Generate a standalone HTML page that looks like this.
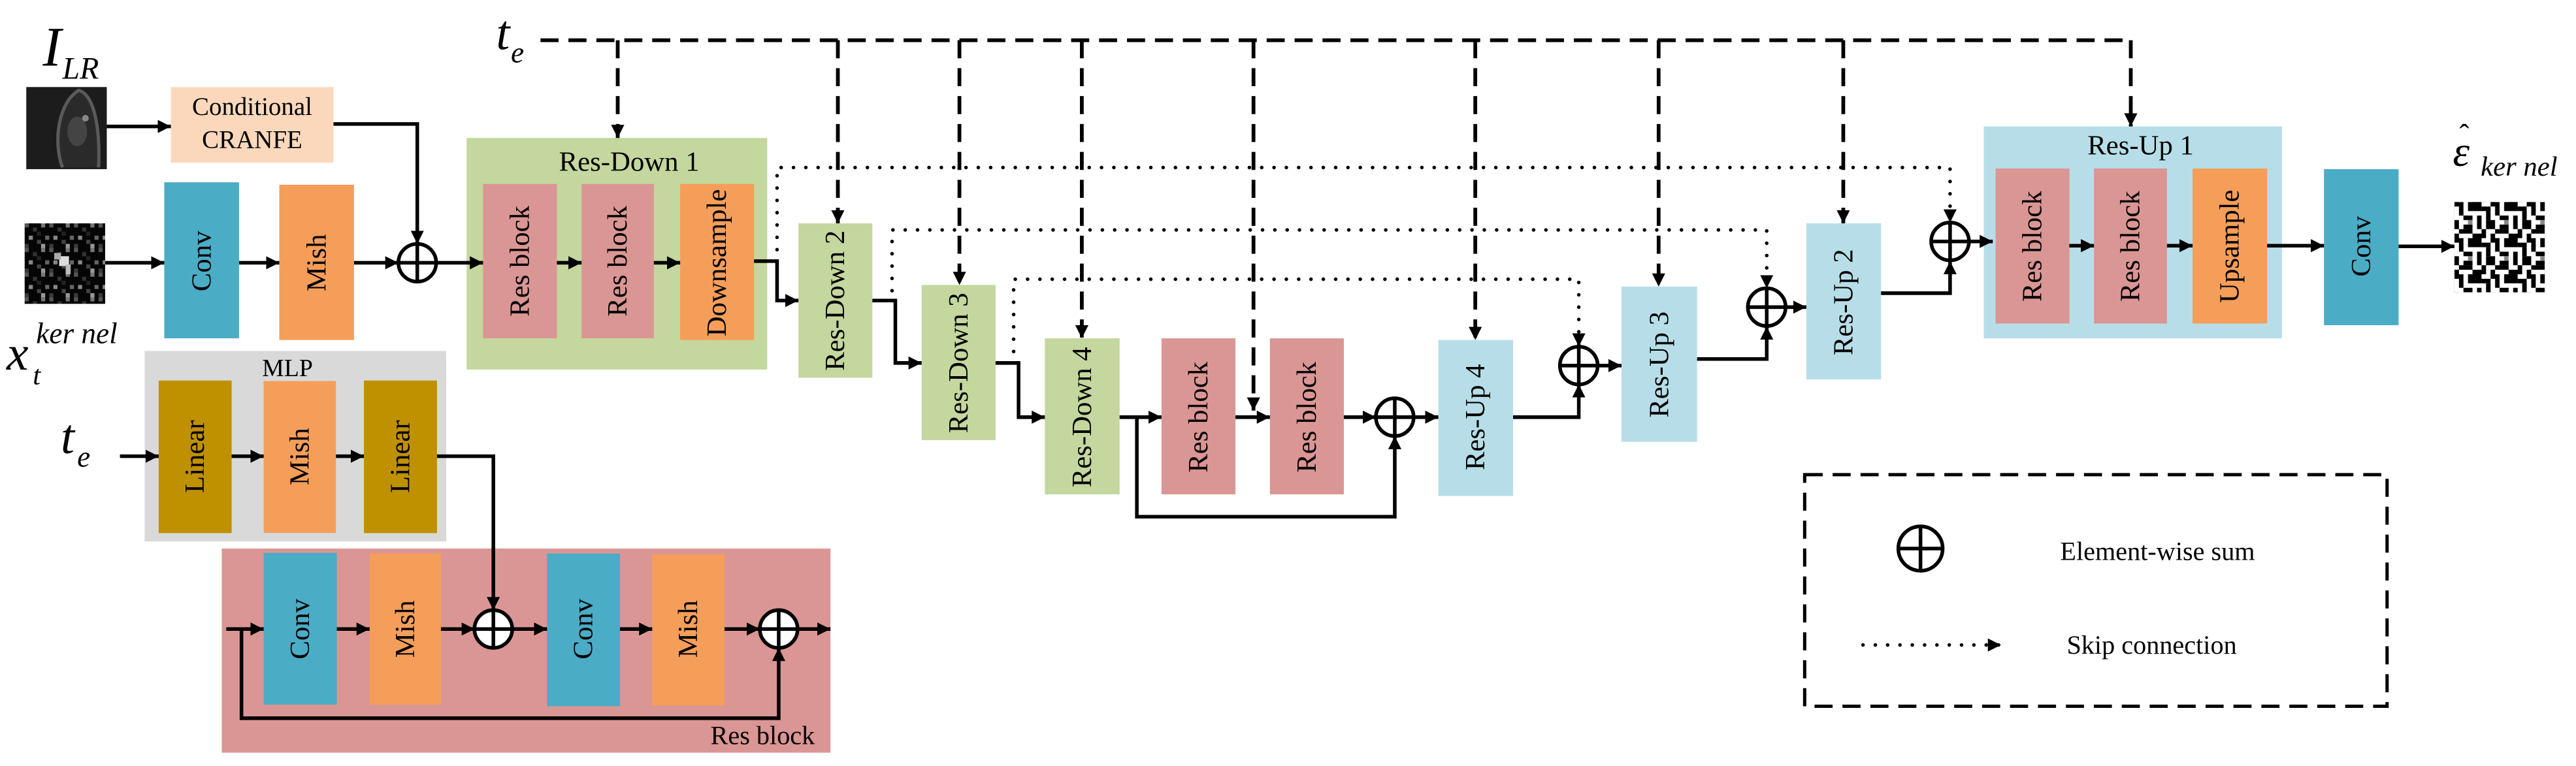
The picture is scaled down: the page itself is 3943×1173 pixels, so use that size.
<!DOCTYPE html>
<html><head><meta charset="utf-8">
<style>
html,body{margin:0;padding:0;background:#fff;}
svg{display:block;}
svg text{font-family:"Liberation Serif","Times New Roman",serif;fill:#000;}
</style></head>
<body>
<svg width="3943" height="1173" viewBox="0 0 1568 466.4" preserveAspectRatio="none" xmlns="http://www.w3.org/2000/svg" font-family="Liberation Serif, Times New Roman, serif">
<defs>
<marker id="a" viewBox="0 0 10 10" refX="10" refY="5" markerWidth="8" markerHeight="8" markerUnits="userSpaceOnUse" orient="auto">
<path d="M0,0 L10,5 L0,10 z" fill="#000"/>
</marker>
<pattern id="noise" x="15" y="136" width="15" height="15" patternUnits="userSpaceOnUse">
<rect width="15" height="15" fill="#050505"/>
<rect x="0" y="0" width="2.5" height="2.5" fill="#555"/>
<rect x="5" y="2.5" width="2.5" height="2.5" fill="#333"/>
<rect x="10" y="0" width="2.5" height="2.5" fill="#777"/>
<rect x="2.5" y="7.5" width="2.5" height="2.5" fill="#888"/>
<rect x="7.5" y="10" width="2.5" height="2.5" fill="#444"/>
<rect x="12.5" y="7.5" width="2.5" height="2.5" fill="#666"/>
<rect x="0" y="12.5" width="2.5" height="2.5" fill="#3a3a3a"/>
<rect x="10" y="12.5" width="2.5" height="2.5" fill="#999"/>
<rect x="7.5" y="5" width="2.5" height="2.5" fill="#222"/>
</pattern>
<pattern id="qr" x="1494" y="123" width="22" height="22" patternUnits="userSpaceOnUse">
<rect width="22" height="22" fill="#fff"/>
<rect x="0" y="0" width="5.5" height="2.75" fill="#000"/>
<rect x="8.25" y="0" width="8.25" height="5.5" fill="#000"/>
<rect x="2.75" y="2.75" width="2.75" height="5.5" fill="#000"/>
<rect x="16.5" y="2.75" width="5.5" height="2.75" fill="#000"/>
<rect x="5.5" y="8.25" width="5.5" height="2.75" fill="#000"/>
<rect x="13.75" y="8.25" width="2.75" height="8.25" fill="#000"/>
<rect x="0" y="11" width="2.75" height="5.5" fill="#000"/>
<rect x="19.25" y="11" width="2.75" height="5.5" fill="#000"/>
<rect x="5.5" y="13.75" width="5.5" height="2.75" fill="#000"/>
<rect x="2.75" y="16.5" width="8.25" height="2.75" fill="#000"/>
<rect x="11" y="19.25" width="8.25" height="2.75" fill="#000"/>
<rect x="0" y="19.25" width="2.75" height="2.75" fill="#000"/>
<rect x="16.5" y="16.5" width="2.75" height="2.75" fill="#000"/>
<rect x="8.25" y="11" width="2.75" height="2.75" fill="#888"/>
<rect x="19.25" y="5.5" width="2.75" height="5.5" fill="#000"/>
</pattern>
</defs>

<!-- images -->
<rect x="16" y="53" width="49" height="50" fill="#1c1c1c"/>
<path d="M38,102 C32,85 36,62 48,55 C58,58 61,80 60,102" fill="#2a2a2a" stroke="#5a5a5a" stroke-width="2"/>
<ellipse cx="47" cy="80" rx="6" ry="9" fill="#444"/>
<circle cx="52" cy="72" r="2" fill="#888"/>
<rect x="15" y="136" width="49" height="49" fill="url(#noise)"/>
<rect x="36" y="156" width="6" height="6" fill="#ddd"/>
<rect x="33" y="154" width="4" height="4" fill="#aaa"/>
<rect x="40" y="161" width="3" height="6" fill="#bbb"/>
<rect x="1494" y="123" width="55" height="55" fill="url(#qr)"/>

<!-- math labels -->
<text x="26" y="40" font-size="34" font-style="italic">I</text>
<text x="38" y="48" font-size="19" font-style="italic">LR</text>
<text x="302" y="30" font-size="30" font-style="italic">t</text>
<text x="311" y="38" font-size="18" font-style="italic">e</text>
<text x="37" y="276" font-size="30" font-style="italic">t</text>
<text x="47" y="284" font-size="18" font-style="italic">e</text>
<text x="4" y="225" font-size="30" font-style="italic">x</text>
<text x="22" y="209" font-size="18" font-style="italic">ker nel</text>
<text x="20" y="234" font-size="17" font-style="italic">t</text>
<text x="1493" y="101" font-size="26" font-style="italic">ε</text>
<text x="1497" y="88" font-size="18">ˆ</text>
<text x="1510" y="107" font-size="17" font-style="italic">ker nel</text>

<!-- CRANFE -->
<rect x="104" y="53" width="99" height="46" fill="#FBD8BC"/>
<text x="153.5" y="70" font-size="15.5" text-anchor="middle">Conditional</text>
<text x="153.5" y="90" font-size="15.5" text-anchor="middle">CRANFE</text>

<!-- Conv / Mish top -->
<rect x="100" y="111" width="45.5" height="95" fill="#4BACC6"/>
<rect x="170" y="112.5" width="45.5" height="94.5" fill="#F59E5A"/>
<text transform="translate(122.8,159) rotate(-90)" font-size="17" text-anchor="middle" dominant-baseline="central">Conv</text>
<text transform="translate(192.8,160) rotate(-90)" font-size="17" text-anchor="middle" dominant-baseline="central">Mish</text>

<!-- Res-Down 1 -->
<rect x="284" y="84" width="183" height="141" fill="#C4D79E"/>
<text x="383" y="104" font-size="17" text-anchor="middle">Res-Down 1</text>
<rect x="294" y="112" width="45" height="94" fill="#DA9694"/>
<rect x="354" y="112" width="44" height="94" fill="#DA9694"/>
<rect x="414" y="112" width="45" height="95" fill="#F59E5A"/>
<text transform="translate(316.5,159) rotate(-90)" font-size="17" text-anchor="middle" dominant-baseline="central">Res block</text>
<text transform="translate(376,159) rotate(-90)" font-size="17" text-anchor="middle" dominant-baseline="central">Res block</text>
<text transform="translate(436.5,160) rotate(-90)" font-size="17" text-anchor="middle" dominant-baseline="central">Downsample</text>

<!-- Down/Up column blocks -->
<rect x="486" y="136" width="45" height="94" fill="#C4D79E"/>
<rect x="561" y="173.5" width="45" height="94.5" fill="#C4D79E"/>
<rect x="636" y="206" width="45.5" height="95" fill="#C4D79E"/>
<rect x="707" y="206" width="45" height="95" fill="#DA9694"/>
<rect x="773" y="206" width="45" height="95" fill="#DA9694"/>
<rect x="875.5" y="207" width="45.5" height="95" fill="#B7DEE8"/>
<rect x="987" y="174.5" width="46" height="94.5" fill="#B7DEE8"/>
<rect x="1099.5" y="136" width="45.5" height="95" fill="#B7DEE8"/>
<text transform="translate(508.5,183) rotate(-90)" font-size="17" text-anchor="middle" dominant-baseline="central">Res-Down 2</text>
<text transform="translate(583.5,221) rotate(-90)" font-size="17" text-anchor="middle" dominant-baseline="central">Res-Down 3</text>
<text transform="translate(658.7,254) rotate(-90)" font-size="17" text-anchor="middle" dominant-baseline="central">Res-Down 4</text>
<text transform="translate(729.5,254) rotate(-90)" font-size="17" text-anchor="middle" dominant-baseline="central">Res block</text>
<text transform="translate(795.5,254) rotate(-90)" font-size="17" text-anchor="middle" dominant-baseline="central">Res block</text>
<text transform="translate(898.2,254) rotate(-90)" font-size="17" text-anchor="middle" dominant-baseline="central">Res-Up 4</text>
<text transform="translate(1010,222) rotate(-90)" font-size="17" text-anchor="middle" dominant-baseline="central">Res-Up 3</text>
<text transform="translate(1122.2,184) rotate(-90)" font-size="17" text-anchor="middle" dominant-baseline="central">Res-Up 2</text>

<!-- Res-Up 1 -->
<rect x="1207.5" y="77" width="181.5" height="129" fill="#B7DEE8"/>
<text x="1303" y="94" font-size="17" text-anchor="middle">Res-Up 1</text>
<rect x="1214.7" y="102.6" width="45" height="94.4" fill="#DA9694"/>
<rect x="1274.6" y="102.6" width="44.4" height="94.4" fill="#DA9694"/>
<rect x="1334.6" y="102.6" width="45.4" height="94.4" fill="#F59E5A"/>
<text transform="translate(1237.2,150) rotate(-90)" font-size="17" text-anchor="middle" dominant-baseline="central">Res block</text>
<text transform="translate(1296.8,150) rotate(-90)" font-size="17" text-anchor="middle" dominant-baseline="central">Res block</text>
<text transform="translate(1357.3,150) rotate(-90)" font-size="17" text-anchor="middle" dominant-baseline="central">Upsample</text>
<rect x="1414.6" y="103" width="45.4" height="95" fill="#4BACC6"/>
<text transform="translate(1437.3,150) rotate(-90)" font-size="17" text-anchor="middle" dominant-baseline="central">Conv</text>

<!-- MLP -->
<rect x="88" y="213.7" width="183.6" height="116" fill="#D9D9D9"/>
<text x="175" y="229" font-size="15" text-anchor="middle">MLP</text>
<rect x="96.6" y="231.7" width="44.4" height="92.9" fill="#BF9000"/>
<rect x="160.5" y="232" width="44" height="92.5" fill="#F59E5A"/>
<rect x="221.5" y="231.7" width="44.5" height="92.9" fill="#BF9000"/>
<text transform="translate(118.8,278) rotate(-90)" font-size="17" text-anchor="middle" dominant-baseline="central">Linear</text>
<text transform="translate(182.5,278) rotate(-90)" font-size="17" text-anchor="middle" dominant-baseline="central">Mish</text>
<text transform="translate(243.7,278) rotate(-90)" font-size="17" text-anchor="middle" dominant-baseline="central">Linear</text>

<!-- Res block detail -->
<rect x="135" y="334" width="370.5" height="124.3" fill="#DA9694"/>
<text x="496" y="453" font-size="16" text-anchor="end">Res block</text>
<rect x="160.5" y="336.6" width="44.5" height="92.4" fill="#4BACC6"/>
<rect x="225" y="337" width="43.4" height="92" fill="#F59E5A"/>
<rect x="333" y="337" width="44.4" height="93" fill="#4BACC6"/>
<rect x="397" y="337.5" width="44" height="92" fill="#F59E5A"/>
<text transform="translate(182.8,383) rotate(-90)" font-size="17" text-anchor="middle" dominant-baseline="central">Conv</text>
<text transform="translate(246.7,383) rotate(-90)" font-size="17" text-anchor="middle" dominant-baseline="central">Mish</text>
<text transform="translate(355.2,383) rotate(-90)" font-size="17" text-anchor="middle" dominant-baseline="central">Conv</text>
<text transform="translate(419,383) rotate(-90)" font-size="17" text-anchor="middle" dominant-baseline="central">Mish</text>

<!-- solid connectors -->
<g fill="none" stroke="#000" stroke-width="2.2" marker-end="url(#a)">
<path d="M65 77 H104"/>
<path d="M203 75.5 H254 V148.5"/>
<path d="M64 160 H100"/>
<path d="M145.5 160 H170"/>
<path d="M215.5 160 H242.5"/>
<path d="M265.5 160 H294"/>
<path d="M339 160 H354"/>
<path d="M398 160 H414"/>
<path d="M459 159 H473 V183 H486"/>
<path d="M531 183 H545 V221 H561"/>
<path d="M606 221 H620 V254 H636"/>
<path d="M681.5 254 H707"/>
<path d="M692 254 V314.6 H849 V265.5"/>
<path d="M752 254 H773"/>
<path d="M818 254 H837.5"/>
<path d="M860.5 254 H875.5"/>
<path d="M921 254 H961 V234"/>
<path d="M972.5 222.6 H987"/>
<path d="M1033 218.6 H1075.4 V198.8"/>
<path d="M1087 187 H1099.5"/>
<path d="M1145 178.5 H1187 V159"/>
<path d="M1199 147 H1213"/>
<path d="M1259.6 149.6 H1274.6"/>
<path d="M1319 149.6 H1334.6"/>
<path d="M1380 149.6 H1414.6"/>
<path d="M1460 150 H1494"/>
<path d="M73 277.8 H96.6"/>
<path d="M141 277.8 H160.5"/>
<path d="M204.5 277.8 H221.5"/>
<path d="M266 277.8 H300.3 V371.5"/>
<path d="M137.7 383 H160.5"/>
<path d="M205 383 H225"/>
<path d="M268.4 383 H289"/>
<path d="M311.5 383 H333"/>
<path d="M377.4 383 H397"/>
<path d="M441 383 H462.5"/>
<path d="M485.5 383 H505.5"/>
<path d="M147 383 V437.3 H474 V394.5"/>
</g>

<!-- dashed t_e lines -->
<g fill="none" stroke="#000" stroke-width="2.3" stroke-dasharray="11 6">
<path d="M329 24.5 H1297"/>
</g>
<g fill="none" stroke="#000" stroke-width="2.3" stroke-dasharray="11 6" marker-end="url(#a)">
<path d="M376 24.5 V84"/>
<path d="M510 24.5 V136"/>
<path d="M584 24.5 V173.5"/>
<path d="M658.5 24.5 V206"/>
<path d="M763 24.5 V250"/>
<path d="M898 24.5 V207"/>
<path d="M1009.6 24.5 V174.5"/>
<path d="M1122 24.5 V136"/>
<path d="M1297 24.5 V77"/>
</g>

<!-- dotted skips -->
<g fill="none" stroke="#000" stroke-width="2.2" stroke-dasharray="0 7.5" stroke-linecap="round" marker-end="url(#a)">
<path d="M473 152 V102 H1187 V135.5"/>
<path d="M543 177 V140 H1075.4 V175.5"/>
<path d="M617 214 V170 H961 V211"/>
</g>

<!-- sum circles -->
<g fill="#fff" stroke="#000" stroke-width="2.2">
<circle cx="254" cy="160" r="11.5"/>
<circle cx="849" cy="254" r="11.5"/>
<circle cx="961" cy="222.6" r="11.5"/>
<circle cx="1075.4" cy="187" r="11.5"/>
<circle cx="1187" cy="147" r="11.5"/>
<circle cx="300.3" cy="383" r="11.5"/>
<circle cx="474" cy="383" r="11.5"/>
<circle cx="1169" cy="334" r="13.5"/>
</g>
<g stroke="#000" stroke-width="2.2">
<path d="M242.5 160 H265.5 M254 148.5 V171.5"/>
<path d="M837.5 254 H860.5 M849 242.5 V265.5"/>
<path d="M949.5 222.6 H972.5 M961 211.1 V234.1"/>
<path d="M1063.9 187 H1086.9 M1075.4 175.5 V198.5"/>
<path d="M1175.5 147 H1198.5 M1187 135.5 V158.5"/>
<path d="M288.8 383 H311.8 M300.3 371.5 V394.5"/>
<path d="M462.5 383 H485.5 M474 371.5 V394.5"/>
<path d="M1155.5 334 H1182.5 M1169 320.5 V347.5"/>
</g>

<!-- legend -->
<rect x="1098.5" y="289" width="354.5" height="141" fill="none" stroke="#000" stroke-width="2" stroke-dasharray="11 6"/>
<text x="1254" y="341" font-size="16">Element-wise sum</text>
<path d="M1134 392.7 H1218" fill="none" stroke="#000" stroke-width="2.2" stroke-dasharray="0 7.5" stroke-linecap="round" marker-end="url(#a)"/>
<text x="1258" y="398" font-size="16">Skip connection</text>
</svg>
</body></html>
